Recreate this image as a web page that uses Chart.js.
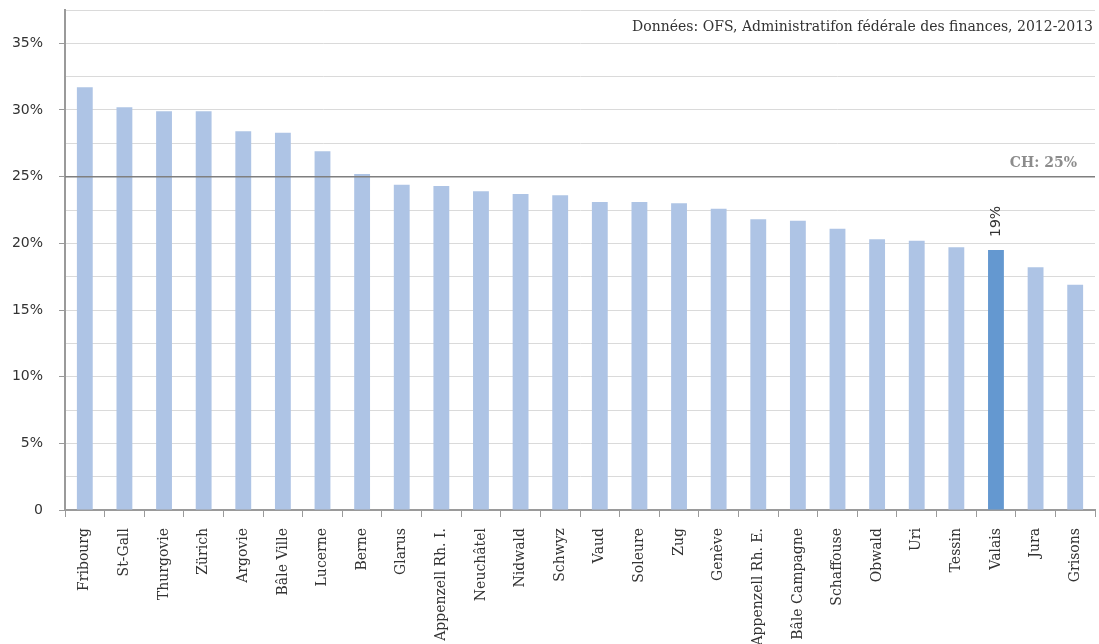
<!DOCTYPE html>
<html>
<head>
<meta charset="utf-8">
<script src="https://cdn.jsdelivr.net/npm/chart.js@4.4.1/dist/chart.umd.min.js"></script>
<style>
  html, body { margin: 0; padding: 0; background: #fff; }
  #wrap { width: 1099px; height: 644px; position: relative; }
</style>
</head>
<body>
<div id="wrap"><canvas id="cantonChart"></canvas></div>
<script>
const cantons = ['Fribourg', 'St-Gall', 'Thurgovie', 'Zürich', 'Argovie', 'Bâle Ville', 'Lucerne', 'Berne',
  'Glarus', 'Appenzell Rh. I.', 'Neuchâtel', 'Nidwald', 'Schwyz', 'Vaud', 'Soleure', 'Zug', 'Genève',
  'Appenzell Rh. E.', 'Bâle Campagne', 'Schaffouse', 'Obwald', 'Uri', 'Tessin', 'Valais', 'Jura', 'Grisons'];
const shares = [31.7, 30.2, 29.9, 29.9, 28.4, 28.3, 26.9, 25.2, 24.4, 24.3, 23.9, 23.7, 23.6, 23.1, 23.1,
  23.0, 22.6, 21.8, 21.7, 21.1, 20.3, 20.2, 19.7, 19.5, 18.2, 16.9];
const yTickLabels = { 0: '0', 5: '5%', 10: '10%', 15: '15%', 20: '20%', 25: '25%', 30: '30%', 35: '35%' };
const chAverage = 25;
const chLabel = 'CH: 25%';
const highlightCanton = 'Valais';
const highlightLabel = '19%';
const sourceText = 'Données: OFS, Administratifon fédérale des finances, 2012-2013';

const barColors = cantons.map(c => c === highlightCanton ? '#6498d0' : '#aec4e5');

// CH reference line, source note and the Valais label
const annotations = {
    id: 'annotations',
    afterDatasetsDraw(chart) {
        const { ctx, chartArea, scales } = chart;
        const y = scales.y.getPixelForValue(chAverage);
        ctx.save();
        ctx.strokeStyle = '#7f7f7f';
        ctx.lineWidth = 1.5;
        ctx.beginPath();
        ctx.moveTo(chartArea.left, y);
        ctx.lineTo(chartArea.right, y);
        ctx.stroke();

        ctx.fillStyle = '#8c8c8c';
        ctx.font = 'bold 14px "DejaVu Serif"';
        ctx.textAlign = 'right';
        ctx.textBaseline = 'middle';
        ctx.fillText(chLabel, chartArea.right - 18, y - 13);

        ctx.fillStyle = '#333';
        ctx.font = '14px "DejaVu Serif"';
        ctx.fillText(sourceText, chartArea.right - 2, 27);

        const i = cantons.indexOf(highlightCanton);
        const bx = scales.x.getPixelForValue(i);
        const by = scales.y.getPixelForValue(shares[i]);
        ctx.translate(bx, by - 13);
        ctx.rotate(-Math.PI / 2);
        ctx.textAlign = 'left';
        ctx.font = '14px "DejaVu Sans"';
        ctx.fillText(highlightLabel, 0, 0);
        ctx.restore();
    }
};

new Chart(document.getElementById('cantonChart'), {
    type: 'bar',
    data: {
        labels: cantons,
        datasets: [{ data: shares, backgroundColor: barColors, barPercentage: 0.4, categoryPercentage: 1 }]
    },
    options: {
        responsive: true,
        maintainAspectRatio: false,
        animation: false,
        layout: { padding: { top: 10, right: 4, left: 0, bottom: 0 } },
        plugins: { legend: { display: false }, tooltip: { enabled: false } },
        scales: {
            x: {
                afterFit: s => { s.height = 134; s.paddingLeft = 0; s.paddingRight = 0; },
                grid: { offset: true, drawOnChartArea: false, tickLength: 7, color: '#9a9a9a' },
                border: { color: '#9a9a9a', width: 2 },
                ticks: { minRotation: 90, maxRotation: 90, padding: 11, color: '#333', font: { family: 'DejaVu Serif', size: 14 } }
            },
            y: {
                min: 0,
                max: 37.5,
                afterFit: s => { s.width = 65; s.paddingTop = 0; s.paddingBottom = 0; },
                grid: {
                    color: '#dadada',
                    tickLength: 6,
                    tickColor: c => (c.tick && c.tick.value in yTickLabels) ? '#9a9a9a' : 'rgba(0,0,0,0)'
                },
                border: { color: '#9a9a9a', width: 2 },
                ticks: {
                    stepSize: 2.5,
                    padding: 16,
                    color: '#333',
                    font: { family: 'DejaVu Sans', size: 14 },
                    callback: v => yTickLabels[v] || ''
                }
            }
        }
    },
    plugins: [annotations]
});
</script>
</body>
</html>
